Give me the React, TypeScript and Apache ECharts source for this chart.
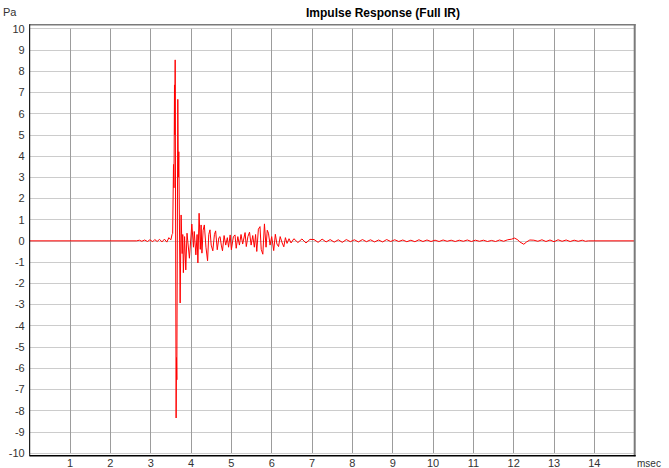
import React, { useEffect, useRef } from "react";
import * as echarts from "echarts";

// Impulse response samples: [time in msec, pressure in Pa]
const onsetSegment: [number, number][] = [
  [0, 0], [2.65, 0], [2.72, 0.03], [2.78, -0.02], [2.85, 0.04], [2.92, -0.03],
  [2.98, 0.05], [3.05, -0.04], [3.1, 0.06], [3.16, -0.03], [3.22, 0.07],
  [3.28, -0.05], [3.34, 0.08], [3.4, -0.06], [3.45, 0.15], [3.5, 0.05], [3.53, 0.3],
];

const peakSegment: [number, number][] = [
  [3.545, 0.35], [3.565, 3.6], [3.577, 2.5], [3.59, 7.35], [3.598, 5.0],
  [3.607, 8.53], [3.63, -8.35], [3.64, -5.5], [3.648, -6.55], [3.672, 6.67],
  [3.685, 3.0], [3.697, 4.2], [3.73, -2.93], [3.754, 1.22], [3.78, -0.6],
  [3.795, 0.3], [3.81, -1.5], [3.84, 0.2], [3.87, -1.37], [3.9, 0.36],
];

const decaySegment: [number, number][] = [
  [3.96, -0.82], [4.02, 0.79], [4.06, -0.3], [4.08, 0.44], [4.12, -0.66],
  [4.15, 0.3], [4.17, -1.04], [4.2, 1.3], [4.23, -0.4], [4.25, 0.75],
  [4.27, -0.58], [4.3, 0.5], [4.33, 0.75], [4.37, -0.3], [4.41, -0.94],
  [4.44, 0.3], [4.47, 0.52], [4.5, -0.2], [4.54, -0.47], [4.58, 0.3],
  [4.61, 0.47], [4.65, -0.42], [4.69, 0.15], [4.72, 0.2], [4.75, -0.2],
  [4.78, -0.47], [4.82, 0.25], [4.86, -0.2], [4.9, 0.15], [4.93, -0.3],
  [4.97, 0.28], [5.0, -0.42], [5.05, 0.2], [5.09, 0.28], [5.12, -0.35],
  [5.16, 0.2], [5.2, -0.2], [5.24, 0.3], [5.28, -0.15], [5.34, 0.39],
  [5.37, -0.27], [5.41, 0.2], [5.45, 0.41], [5.49, -0.2], [5.53, 0.25],
  [5.57, -0.3], [5.6, 0.3], [5.63, -0.5], [5.67, 0.55], [5.71, 0.67],
  [5.74, -0.4], [5.78, -0.63], [5.82, 0.8], [5.86, -0.3], [5.89, 0.5],
  [5.92, 0.36], [5.96, -0.2], [6.0, 0.2], [6.05, -0.46], [6.09, 0.31],
  [6.13, -0.15], [6.17, -0.27], [6.21, 0.2], [6.26, -0.1], [6.3, -0.28],
  [6.34, 0.15], [6.38, -0.12], [6.43, 0.1], [6.48, -0.1],
];

const tailSegment: [number, number][] = [
  [6.55, 0.1], [6.65, -0.08], [6.75, 0.09], [6.85, -0.1], [6.95, 0.07],
  [7.05, 0.06], [7.15, -0.07], [7.25, 0.08], [7.35, -0.05], [7.45, 0.06],
  [7.55, -0.06], [7.65, 0.05], [7.75, -0.07], [7.85, 0.06], [7.95, -0.04],
  [8.05, 0.05], [8.15, -0.05], [8.25, 0.06], [8.35, -0.04], [8.45, 0.05],
  [8.55, -0.05], [8.65, 0.04], [8.75, -0.05], [8.85, 0.06], [8.95, -0.03],
  [9.05, 0.05], [9.15, -0.03], [9.25, 0.04], [9.35, -0.04], [9.45, 0.03],
  [9.55, -0.04], [9.65, 0.05], [9.75, -0.03], [9.85, 0.04], [9.95, -0.03],
  [10.05, 0.03], [10.15, -0.03], [10.25, 0.04], [10.35, -0.02], [10.45, 0.03],
  [10.55, -0.03], [10.65, 0.03], [10.75, -0.02], [10.85, 0.04], [10.95, -0.03],
  [11.05, 0.03], [11.15, -0.02], [11.25, 0.03], [11.35, -0.03], [11.45, 0.02],
  [11.55, -0.03], [11.65, 0.04], [11.75, -0.02], [11.85, 0.05], [11.95, 0.08],
  [12.02, 0.13], [12.1, 0.05], [12.15, -0.05], [12.25, -0.16], [12.32, -0.05],
  [12.4, 0.04], [12.5, 0.03], [12.6, -0.02], [12.7, 0.05], [12.8, -0.03],
  [12.9, 0.04], [13.0, -0.04], [13.1, 0.05], [13.2, -0.02], [13.3, 0.04],
  [13.4, -0.03], [13.5, 0.03], [13.6, -0.02], [13.7, 0.03], [13.78, -0.02],
  [13.85, 0], [15, 0],
];

const xTickLabels = ["1", "2", "3", "4", "5", "6", "7", "8", "9", "10", "11", "12", "13", "14"];

const FONT = 'Arial, "Liberation Sans", Helvetica, sans-serif';

export default function App() {
  const ref = useRef<HTMLDivElement>(null);

  useEffect(() => {
    document.body.style.margin = "0";
    if (!ref.current) return;
    const chart = echarts.init(ref.current, undefined, { renderer: "svg" });
    const data = [...onsetSegment, ...peakSegment, ...decaySegment, ...tailSegment];
    const L = 29.7, R = 634.7, T = 28.7, B = 453.3;
    chart.setOption({
      animation: false,
      backgroundColor: "#ffffff",
      grid: { left: L, right: 669 - R, top: T, bottom: 468 - B, containLabel: false },
      xAxis: {
        type: "value",
        min: 0,
        max: 15,
        interval: 1,
        axisLine: { show: false },
        axisTick: { show: false },
        axisLabel: {
          margin: 4,
          color: "#333",
          fontSize: 11,
          fontFamily: FONT,
          formatter: (v: number) => (v >= 1 && v <= 14 ? xTickLabels[v - 1] : ""),
        },
        splitLine: { show: true, lineStyle: { color: "#9c9c9c", width: 1 } },
      },
      yAxis: {
        type: "value",
        min: -10,
        max: 10,
        interval: 1,
        axisLine: { show: false },
        axisTick: { show: false },
        axisLabel: { margin: 5, color: "#333", fontSize: 11, fontFamily: FONT },
        splitLine: { show: true, lineStyle: { color: "#cccccc", width: 1 } },
      },
      series: [
        {
          type: "line",
          data,
          showSymbol: false,
          symbol: "none",
          sampling: undefined,
          lineStyle: { color: "#ff0000", width: 1 },
          z: 5,
        },
      ],
      graphic: [
        { type: "line", shape: { x1: L, y1: 24.8, x2: R + 1, y2: 24.8 }, style: { stroke: "#7a7a7a", lineWidth: 1.5 }, z: 10 },
        { type: "line", shape: { x1: R, y1: 24.2, x2: R, y2: 456.2 }, style: { stroke: "#7a7a7a", lineWidth: 2 }, z: 10 },
        { type: "line", shape: { x1: L, y1: 24.2, x2: L, y2: 456.2 }, style: { stroke: "#000000", lineWidth: 1 }, z: 10 },
        { type: "line", shape: { x1: L, y1: 455.7, x2: R + 1, y2: 455.7 }, style: { stroke: "#000000", lineWidth: 1.5 }, z: 10 },
        {
          type: "text",
          x: 383,
          y: 13,
          style: {
            text: "Impulse Response (Full IR)",
            textAlign: "center",
            align: "center",
            textVerticalAlign: "middle",
            verticalAlign: "middle",
            font: `bold 12px ${FONT}`,
            fill: "#000",
          },
        },
        {
          type: "text",
          x: 3,
          y: 12,
          style: {
            text: "Pa",
            textAlign: "left",
            align: "left",
            textVerticalAlign: "middle",
            verticalAlign: "middle",
            font: `11px ${FONT}`,
            fill: "#333",
          },
        },
        {
          type: "text",
          x: 637,
          y: 463,
          style: {
            text: "msec",
            textAlign: "left",
            align: "left",
            textVerticalAlign: "middle",
            verticalAlign: "middle",
            font: `10px ${FONT}`,
            fill: "#333",
          },
        },
      ],
    });
    return () => chart.dispose();
  }, []);

  return <div ref={ref} style={{ width: 669, height: 468 }} />;
}
